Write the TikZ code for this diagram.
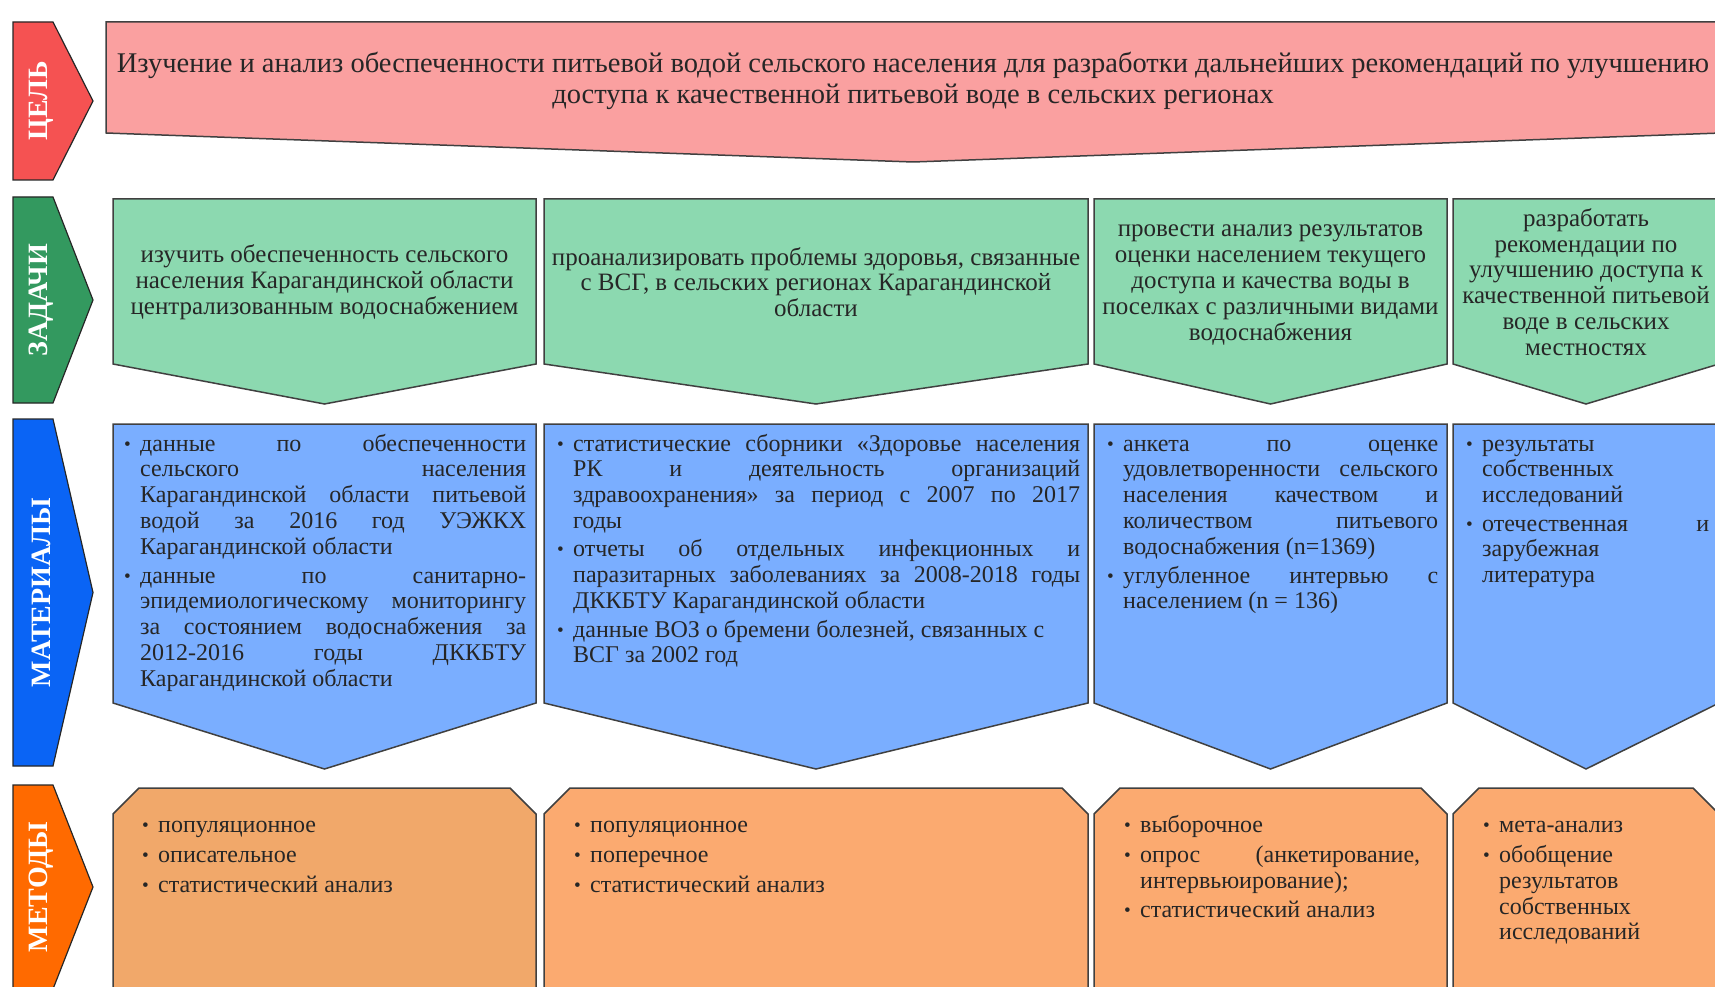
\documentclass[tikz,border=0pt]{standalone}
\usepackage{fontspec}
\setmainfont{Liberation Serif}
\usetikzlibrary{positioning}

\definecolor{celred}{HTML}{F55252}
\definecolor{celpink}{HTML}{FAA0A0}
\definecolor{zadgreen}{HTML}{33995F}
\definecolor{zadmint}{HTML}{8CD9B0}
\definecolor{matblue}{HTML}{0A64F5}
\definecolor{matsky}{HTML}{7AAEFF}
\definecolor{metorange}{HTML}{FF6A00}
\definecolor{metpeach}{HTML}{F1A86A}
\definecolor{metpeachb}{HTML}{FBAA70}

\newcommand{\boxfont}{\fontsize{25}{25.8}\selectfont}
\newcommand{\listfont}{\fontsize{24}{25.8}\selectfont}
\newcommand{\goalfont}{\fontsize{28.5}{30.6}\selectfont}
% bullet item: dot, then a justified block
\newcommand{\pitem}[1]{\par\noindent
  \makebox[16pt][l]{\strut\raisebox{1pt}{\scalebox{0.8}{\textbullet}}}%
  \parbox[t]{\dimexpr\hsize-16pt\relax}{\rightskip=0pt\parfillskip=0pt plus 1fil\relax #1}\par}

\tikzset{
  tag/.style={fill=#1, draw=black!85, line width=1.2pt},
  tagtext/.style={text=white, font=\fontsize{28}{30}\selectfont\bfseries, rotate=90},
  blk/.style={fill=#1, draw=black!75, line width=1.5pt},
  centertext/.style={text=black!85, font=\boxfont, align=center, inner sep=0pt},
  listtext/.style={text=black!85, font=\listfont, text width=#1, align=justify,
    anchor=north west, inner sep=0pt,
    execute at begin node={\parskip=4.6pt\tolerance=10000\hyphenpenalty=10000\exhyphenpenalty=10000}}
}

\begin{document}
\begin{tikzpicture}[x=1pt, y=-1pt]
  \useasboundingbox (0,0) rectangle (1715,987);
  \clip (0,0) rectangle (1715,987);

  % Row labels
  \foreach \ytop/\ybot/\col/\nm/\txt in {22/180/celred/cel/ЦЕЛЬ, 197/403/zadgreen/zad/ЗАДАЧИ,
      419/766/matblue/mat/МАТЕРИАЛЫ, 785/989/metorange/met/МЕТОДЫ}{
    \draw[tag=\col] (13,\ytop) -- (53,\ytop) -- (93,{(\ytop+\ybot)/2}) -- (53,\ybot) -- (13,\ybot) -- cycle;
    \node[tagtext] (\nm) at (41,{(\ytop+\ybot)/2}) {\txt};
  }

  % Goal
  \draw[blk=celpink] (106,22) -- (1721,22) -- (1721,133) -- (913,162) -- (106,133) -- cycle;
  \node[centertext, font=\goalfont] (goal) at (913,81)
    {Изучение и анализ обеспеченности питьевой водой сельского населения для разработки дальнейших рекомендаций по улучшению\\
     доступа к качественной питьевой воде в сельских регионах};

  % Tasks
  \foreach \xl/\xr in {113/536, 544/1088, 1094/1447, 1453/1719}
    \draw[blk=zadmint] (\xl,199) -- (\xr,199) -- (\xr,364) -- ({(\xl+\xr)/2},404) -- (\xl,364) -- cycle;
  \node[centertext] (task1) at (324.5,282)
    {изучить обеспеченность сельского\\ населения Карагандинской области\\ централизованным водоснабжением};
  \node[centertext] (task2) at (816,282)
    {проанализировать проблемы здоровья, связанные\\ с ВСГ, в сельских регионах Карагандинской\\ области};
  \node[centertext] (task3) at (1270.5,285)
    {провести анализ результатов\\ оценки населением текущего\\ доступа и качества воды в\\ поселках с различными видами\\ водоснабжения};
  \node[centertext] (task4) at (1586,282)
    {разработать\\ рекомендации по\\ улучшению доступа к\\ качественной питьевой\\ воде в сельских\\ местностях};

  % Materials
  \foreach \xl/\xr in {113/536, 544/1088, 1094/1447, 1453/1719}
    \draw[blk=matsky] (\xl,424) -- (\xr,424) -- (\xr,703) -- ({(\xl+\xr)/2},769) -- (\xl,703) -- cycle;
  \node[listtext=402pt] (mat1) at (124,420.5) {%
    \pitem{данные по обеспеченности\linebreak сельского населения\linebreak Карагандинской области питьевой\linebreak водой за 2016 год УЭЖКХ\linebreak Карагандинской области}
    \pitem{данные по санитарно-\linebreak эпидемиологическому мониторингу\linebreak за состоянием водоснабжения за\linebreak 2012-2016 годы ДККБТУ\linebreak Карагандинской области}};
  \node[listtext=523pt] (mat2) at (557,420.5) {%
    \pitem{статистические сборники «Здоровье населения\linebreak РК и деятельность организаций\linebreak здравоохранения» за период с 2007 по 2017\linebreak годы}
    \pitem{отчеты об отдельных инфекционных и\linebreak паразитарных заболеваниях за 2008-2018 годы\linebreak ДККБТУ Карагандинской области}
    \pitem{данные ВОЗ о бремени болезней, связанных с\\ ВСГ за 2002 год}};
  \node[listtext=331pt] (mat3) at (1107,420.5) {%
    \pitem{анкета по оценке\linebreak удовлетворенности сельского\linebreak населения качеством и\linebreak количеством питьевого\linebreak водоснабжения (n=1369)}
    \pitem{углубленное интервью с\linebreak населением (n = 136)}};
  \node[listtext=243pt] (mat4) at (1466,420.5) {%
    \pitem{результаты\\ собственных\\ исследований}
    \pitem{отечественная и\linebreak зарубежная\\ литература}};

  % Methods
  \foreach \xl/\xr/\col in {113/536/metpeach, 544/1088/metpeachb, 1094/1447/metpeachb, 1453/1719/metpeachb}
    \draw[blk=\col] (\xl,814) -- ({\xl+26},788) -- ({\xr-26},788) -- (\xr,814) -- (\xr,1000) -- (\xl,1000) -- cycle;
  \node[listtext=367pt] (met1) at (142,801.5) {%
    \pitem{популяционное}
    \pitem{описательное}
    \pitem{статистический анализ}};
  \node[listtext=487pt] (met2) at (574,801.5) {%
    \pitem{популяционное}
    \pitem{поперечное}
    \pitem{статистический анализ}};
  \node[listtext=296pt] (met3) at (1124,801.5) {%
    \pitem{выборочное}
    \pitem{опрос (анкетирование,\linebreak интервьюирование);}
    \pitem{статистический анализ}};
  \node[listtext=207pt] (met4) at (1483,801.5) {%
    \pitem{мета-анализ}
    \pitem{обобщение\\ результатов\\ собственных\\ исследований}};
\end{tikzpicture}
\end{document}
